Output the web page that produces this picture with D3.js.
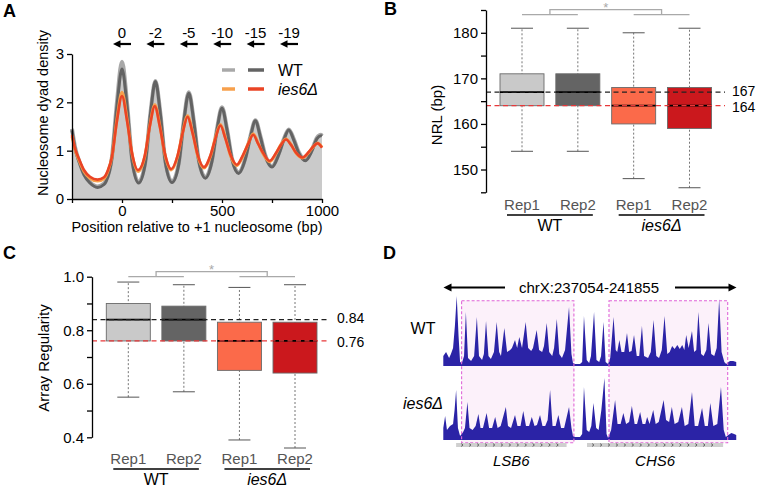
<!DOCTYPE html>
<html>
<head>
<meta charset="utf-8">
<script src="https://cdn.jsdelivr.net/npm/d3@7"></script>
<style>
  body { margin: 0; background: #fff; }
  svg { font-family: "Liberation Sans", Arial, Helvetica, sans-serif; }
</style>
</head>
<body>
<svg id="fig" width="759" height="489"></svg>
<script>
// ---------- Panel A: dyad density around +1 nucleosome ([bp, density])
const wtRep1 = [[-250,1.45],[-235,1.08],[-213,0.77],[-190,0.52],[-160,0.35],[-122,0.26],[-90,0.32],[-80,0.38],[-50,0.88],[-25,2.02],[0,2.84],[25,2.0],[50,0.83],[83,0.35],[117,0.77],[142,1.77],[167,2.44],[192,1.77],[217,0.77],[250,0.36],[284,0.74],[309,1.62],[334,2.21],[359,1.62],[384,0.8],[417,0.45],[450,0.8],[475,1.45],[500,1.9],[525,1.45],[550,0.84],[583,0.55],[617,0.85],[642,1.3],[667,1.63],[692,1.3],[717,0.9],[750,0.68],[784,0.94],[809,1.24],[834,1.44],[859,1.24],[884,0.97],[917,0.81],[950,1.02],[975,1.27],[995,1.33],[1000,1.31]];
const wtRep2 = [[-250,1.42],[-235,1.05],[-213,0.75],[-190,0.5],[-160,0.33],[-122,0.24],[-90,0.3],[-80,0.36],[-50,0.85],[-25,1.93],[0,2.69],[25,1.93],[50,0.8],[83,0.33],[117,0.75],[142,1.75],[167,2.43],[192,1.75],[217,0.75],[250,0.34],[284,0.72],[309,1.6],[334,2.19],[359,1.6],[384,0.78],[417,0.43],[450,0.78],[475,1.43],[500,1.88],[525,1.43],[550,0.82],[583,0.53],[617,0.83],[642,1.28],[667,1.62],[692,1.28],[717,0.88],[750,0.66],[784,0.92],[809,1.22],[834,1.43],[859,1.22],[884,0.95],[917,0.79],[950,1.0],[975,1.25],[995,1.31],[1000,1.3]];
const iesRep1 = [[-250,1.3],[-235,1.02],[-213,0.78],[-190,0.57],[-160,0.43],[-122,0.37],[-90,0.42],[-70,0.58],[-50,0.88],[-25,1.66],[0,2.21],[25,1.66],[50,0.94],[80,0.57],[114,0.88],[139,1.52],[164,1.95],[189,1.52],[214,0.93],[246,0.6],[278,0.88],[303,1.38],[328,1.72],[353,1.38],[378,0.9],[410,0.64],[442,0.88],[467,1.27],[492,1.54],[517,1.27],[542,0.9],[574,0.69],[606,0.9],[631,1.15],[656,1.35],[681,1.15],[706,0.93],[738,0.77],[770,0.94],[795,1.13],[820,1.24],[845,1.13],[870,0.95],[902,0.85],[935,0.97],[960,1.1],[978,1.16],[1000,1.07]];
const iesRep2 = [[-250,1.33],[-235,1.05],[-213,0.81],[-190,0.6],[-160,0.46],[-122,0.4],[-90,0.45],[-70,0.6],[-50,0.88],[-25,1.62],[0,2.13],[25,1.62],[50,0.95],[80,0.6],[114,0.9],[139,1.5],[164,1.92],[189,1.5],[214,0.95],[246,0.62],[278,0.9],[303,1.36],[328,1.7],[353,1.36],[378,0.92],[410,0.66],[442,0.9],[467,1.25],[492,1.52],[517,1.25],[542,0.92],[574,0.71],[606,0.92],[631,1.14],[656,1.33],[681,1.14],[706,0.95],[738,0.79],[770,0.95],[795,1.12],[820,1.23],[845,1.12],[870,0.96],[902,0.86],[935,0.98],[960,1.1],[978,1.15],[1000,1.06]];
const peakPos = [0, 167, 334, 501, 668, 835];
const peakShift = ["0", "-2", "-5", "-10", "-15", "-19"];

// ---------- Panels B / C: box statistics (WT Rep1, WT Rep2, ies6 Rep1, ies6 Rep2)
const repLabels = ["Rep1", "Rep2", "Rep1", "Rep2"];
const strains = ["WT", "ies6Δ"];
const boxColors = ["#c9c9c9", "#646464", "#fb6a4a", "#cb181d"];
const nrlLow = [154, 154, 148, 146];
const nrlQ1 = [164, 164, 160, 159];
const nrlMed = [167, 167, 164, 164];
const nrlQ3 = [171, 171, 168, 168];
const nrlHigh = [181, 181, 180, 181];
const nrlRefs = [167, 164];
const arLow = [0.55, 0.57, 0.39, 0.36];
const arQ1 = [0.76, 0.76, 0.65, 0.64];
const arMed = [0.84, 0.84, 0.76, 0.76];
const arQ3 = [0.90, 0.89, 0.83, 0.83];
const arHigh = [0.98, 0.97, 0.96, 0.97];
const arRefs = [0.84, 0.76];

// ---------- Panel D: browser tracks (bp offset from chrX:237054, coverage)
const trackStart = 237054, trackEnd = 241855;
const wtTrack = [[0,10],[45,14],[95,8],[125,12],[160,18],[190,40],[220,70],[250,30],[275,4],[305,3],[340,10],[370,54],[405,8],[455,5],[505,10],[550,49],[585,10],[635,6],[665,12],[700,45],[740,10],[780,7],[830,14],[875,44],[915,14],[945,10],[1000,38],[1045,14],[1095,16],[1125,18],[1175,26],[1210,18],[1245,29],[1290,18],[1350,44],[1390,18],[1440,15],[1470,18],[1530,36],[1570,16],[1620,14],[1650,20],[1695,43],[1735,14],[1785,10],[1815,18],[1860,47],[1900,12],[1945,8],[1995,16],[2060,59],[2100,12],[2125,3],[2160,2],[2240,2],[2275,4],[2305,50],[2350,6],[2390,3],[2420,10],[2470,54],[2510,6],[2555,4],[2585,10],[2625,44],[2660,4],[2700,2],[2735,8],[2790,49],[2825,16],[2850,14],[2885,26],[2920,14],[2965,14],[3010,33],[3045,14],[3085,15],[3125,31],[3170,10],[3210,10],[3255,40],[3290,10],[3355,8],[3400,14],[3445,46],[3490,10],[3535,8],[3580,16],[3625,50],[3670,12],[3710,14],[3750,20],[3790,17],[3835,21],[3875,17],[3915,21],[3950,16],[3980,31],[4020,18],[4075,35],[4110,14],[4145,16],[4180,54],[4225,12],[4265,10],[4310,16],[4345,43],[4390,12],[4440,10],[4480,18],[4520,67],[4560,14],[4605,4],[4635,2],[4670,4],[4700,5],[4750,5],[4800,4]];
const iesTrack = [[0,12],[30,24],[60,10],[110,14],[160,16],[185,30],[210,50],[240,12],[275,4],[325,8],[355,12],[395,38],[430,12],[480,10],[530,14],[575,26],[610,12],[650,12],[710,27],[750,12],[800,12],[850,23],[890,12],[940,14],[1025,33],[1060,14],[1110,12],[1175,25],[1215,14],[1265,14],[1310,29],[1355,14],[1405,14],[1450,23],[1495,14],[1535,15],[1585,25],[1625,14],[1670,14],[1710,20],[1750,50],[1790,14],[1840,14],[1885,25],[1930,12],[1980,12],[2060,33],[2100,12],[2125,4],[2160,3],[2240,3],[2275,6],[2305,53],[2350,10],[2390,8],[2425,14],[2460,37],[2505,12],[2545,10],[2590,30],[2640,62],[2675,6],[2700,2],[2750,10],[2815,40],[2855,16],[2905,16],[2950,27],[2995,16],[3045,18],[3090,34],[3135,16],[3175,16],[3225,28],[3265,16],[3310,16],[3340,23],[3380,16],[3440,30],[3480,16],[3530,18],[3610,40],[3650,20],[3700,18],[3745,33],[3790,16],[3850,18],[3910,33],[3955,14],[4015,16],[4075,48],[4120,14],[4175,14],[4240,32],[4285,14],[4335,14],[4375,37],[4425,14],[4490,16],[4550,53],[4595,10],[4630,3],[4670,5],[4720,7],[4765,6],[4800,5]];
const regionBoxes = [[300, 2140], [2715, 4660]];
const genes = [{name: "LSB6", start: 210, end: 2020}, {name: "CHS6", start: 2355, end: 4585}];

// ---------------------------------------------------------------
const svg = d3.select("#fig");
const FONT = '"Liberation Sans", Arial, Helvetica, sans-serif';

function styleAxis(g) {
  g.attr("font-family", FONT).attr("font-size", 15);
  g.selectAll("path, line").attr("stroke", "#000").attr("stroke-width", 1.3);
  g.selectAll("text").attr("fill", "#000");
}

function panelLetter(txt, x, y) {
  svg.append("text").attr("x", x).attr("y", y).attr("font-size", 18)
     .attr("font-weight", "bold").attr("dominant-baseline", "central").text(txt);
}

function arrow(g, xFrom, xTo, y, sw, head) {
  // line from xFrom to xTo, head at xTo
  const dir = Math.sign(xTo - xFrom);
  g.append("line").attr("x1", xFrom).attr("x2", xTo - dir * head * 0.8)
   .attr("y1", y).attr("y2", y).attr("stroke", "#000").attr("stroke-width", sw);
  g.append("path")
   .attr("d", `M${xTo},${y} L${xTo - dir * head},${y - head * 0.5} L${xTo - dir * head},${y + head * 0.5} Z`)
   .attr("fill", "#000");
}

// ====================== Panel A ======================
(function () {
  const g = svg.append("g");
  const x = d3.scaleLinear().domain([-250, 1000]).range([72, 322]);
  const y = d3.scaleLinear().domain([0, 3]).range([199, 54]);
  const curve = d3.curveMonotoneX;

  g.append("path").datum(wtRep1)
   .attr("d", d3.area().curve(curve).x(d => x(d[0])).y0(y(0)).y1(d => y(d[1])))
   .attr("fill", "#cacaca");

  const line = d3.line().curve(curve).x(d => x(d[0])).y(d => y(d[1]));
  const series = [
    {d: wtRep1, c: "#a8a8a8", w: 4},
    {d: wtRep2, c: "#636363", w: 3},
    {d: iesRep1, c: "#f7a04c", w: 3},
    {d: iesRep2, c: "#ea4425", w: 2.6}
  ];
  g.selectAll(".ln").data(series).join("path")
   .attr("d", s => line(s.d)).attr("fill", "none")
   .attr("stroke", s => s.c).attr("stroke-width", s => s.w).attr("stroke-linejoin", "round");

  const ya = g.append("g").attr("transform", "translate(72,0)")
    .call(d3.axisLeft(y).tickValues([0, 1, 2, 3]).tickSize(5).tickSizeOuter(0).tickPadding(3).tickFormat(d3.format("d")));
  styleAxis(ya);
  const xa = g.append("g").attr("transform", "translate(0,199)")
    .call(d3.axisBottom(x).tickValues([-250, 0, 250, 500, 750, 1000]).tickSize(4).tickSizeOuter(0).tickPadding(2)
      .tickFormat(d => (d % 500 === 0 ? d : "")));
  styleAxis(xa);

  g.append("text").attr("x", 197).attr("y", 227).attr("text-anchor", "middle")
   .attr("dominant-baseline", "central").attr("font-size", 14.5).text("Position relative to +1 nucleosome (bp)");
  g.append("text").attr("transform", "translate(43,113) rotate(-90)").attr("text-anchor", "middle")
   .attr("dominant-baseline", "central").attr("font-size", 14.5).text("Nucleosome dyad density");

  // phase shift labels and arrows above peaks
  peakPos.forEach((p, i) => {
    g.append("text").attr("x", x(p)).attr("y", 32).attr("text-anchor", "middle")
     .attr("dominant-baseline", "central").attr("font-size", 15).text(peakShift[i]);
    arrow(g, x(p) + 9, x(p) - 9, 44, 2.2, 7.5);
  });

  // legend
  const leg = [
    {t: strains[0], c1: "#a8a8a8", c2: "#636363", y: 70, it: false},
    {t: strains[1], c1: "#f7a04c", c2: "#ea4425", y: 89, it: true}
  ];
  leg.forEach(l => {
    g.append("line").attr("x1", 222).attr("x2", 235).attr("y1", l.y).attr("y2", l.y)
     .attr("stroke", l.c1).attr("stroke-width", 3.5);
    g.append("line").attr("x1", 248).attr("x2", 264).attr("y1", l.y).attr("y2", l.y)
     .attr("stroke", l.c2).attr("stroke-width", 3.5);
    g.append("text").attr("x", 278).attr("y", l.y).attr("dominant-baseline", "central")
     .attr("font-size", 16).attr("font-style", l.it ? "italic" : "normal").text(l.t);
  });
})();

// ====================== Panels B and C ======================
function boxPanel(cfg) {
  const g = svg.append("g");
  const idx = d3.range(4);
  const x = d3.scalePoint().domain(idx).range(cfg.xr);
  const y = d3.scaleLinear().domain(cfg.dom).range(cfg.yr);
  const bw = 44;

  g.selectAll(".wh").data(idx).join("line")
   .attr("x1", i => x(i)).attr("x2", i => x(i))
   .attr("y1", i => y(cfg.low[i])).attr("y2", i => y(cfg.high[i]))
   .attr("stroke", "#666").attr("stroke-width", 0.9).attr("stroke-dasharray", "2,2");
  [cfg.low, cfg.high].forEach(arr => {
    g.selectAll(null).data(idx).join("line")
     .attr("x1", i => x(i) - 11).attr("x2", i => x(i) + 11)
     .attr("y1", i => y(arr[i])).attr("y2", i => y(arr[i]))
     .attr("stroke", "#555").attr("stroke-width", 1);
  });
  g.selectAll(".bx").data(idx).join("rect")
   .attr("x", i => x(i) - bw / 2).attr("width", bw)
   .attr("y", i => y(cfg.q3[i])).attr("height", i => y(cfg.q1[i]) - y(cfg.q3[i]))
   .attr("fill", i => boxColors[i]).attr("stroke", "#6a6a6a").attr("stroke-width", 0.9);
  g.selectAll(".md").data(idx).join("line")
   .attr("x1", i => x(i) - bw / 2).attr("x2", i => x(i) + bw / 2)
   .attr("y1", i => y(cfg.med[i])).attr("y2", i => y(cfg.med[i]))
   .attr("stroke", "#000").attr("stroke-width", 1.8);

  // reference lines (WT median black, mutant median red)
  const refCol = ["#222", "#e8383a"];
  cfg.refs.forEach((r, k) => {
    g.append("line").attr("x1", cfg.axisX).attr("x2", cfg.refEnd)
     .attr("y1", y(r)).attr("y2", y(r)).attr("stroke", refCol[k])
     .attr("stroke-width", 1.3).attr("stroke-dasharray", "5,3.5");
    g.append("text").attr("x", cfg.refEnd + 7).attr("y", y(r) + (k ? 1.2 : -1.2))
     .attr("dominant-baseline", "central").attr("font-size", 14).text(cfg.refFmt(r));
  });

  const ax = g.append("g").attr("transform", `translate(${cfg.axisX},0)`)
    .call(d3.axisLeft(y).tickValues(cfg.ticks).tickSize(5).tickSizeOuter(0).tickPadding(3).tickFormat(cfg.tickFmt));
  styleAxis(ax);

  g.append("text").attr("transform", `translate(${cfg.ylab[0]},${cfg.ylab[1]}) rotate(-90)`)
   .attr("text-anchor", "middle").attr("dominant-baseline", "central").attr("font-size", 15).text(cfg.ylabel);

  // significance bracket
  const bl = cfg.brY, bt = cfg.brY - 5;
  const m1 = (x(0) + x(1)) / 2, m2 = (x(2) + x(3)) / 2;
  g.append("path")
   .attr("d", `M${x(0)},${bl}H${x(1)}M${x(2)},${bl}H${x(3)}M${m1},${bl}V${bt}H${m2}V${bl}`)
   .attr("fill", "none").attr("stroke", "#a9a9a9").attr("stroke-width", 1.3);
  g.append("text").attr("x", (m1 + m2) / 2).attr("y", bt + 2.5).attr("text-anchor", "middle")
   .attr("font-size", 13).attr("fill", "#a9a9a9").text("*");

  // category labels
  g.selectAll(".rl").data(idx).join("text")
   .attr("x", i => x(i)).attr("y", cfg.repY).attr("text-anchor", "middle")
   .attr("dominant-baseline", "central").attr("font-size", 15).attr("fill", "#555")
   .text(i => repLabels[i]);
  [[0, 1], [2, 3]].forEach((pr, k) => {
    g.append("line").attr("x1", x(pr[0]) - 15).attr("x2", x(pr[1]) + 15)
     .attr("y1", cfg.repY + 11).attr("y2", cfg.repY + 11).attr("stroke", "#000").attr("stroke-width", 1.4);
    g.append("text").attr("x", (x(pr[0]) + x(pr[1])) / 2).attr("y", cfg.repY + 21)
     .attr("text-anchor", "middle").attr("dominant-baseline", "central").attr("font-size", 16)
     .attr("font-style", k ? "italic" : "normal").text(strains[k]);
  });
}

boxPanel({
  xr: [522, 689.5], dom: [145, 185], yr: [192.3, 10], axisX: 486, refEnd: 725,
  low: nrlLow, q1: nrlQ1, med: nrlMed, q3: nrlQ3, high: nrlHigh, refs: nrlRefs,
  refFmt: d3.format("d"), ticks: d3.range(145, 186, 5),
  tickFmt: d => (d % 10 === 0 ? d : ""), ylabel: "NRL (bp)", ylab: [436, 115],
  brY: 14.7, repY: 204
});

boxPanel({
  xr: [128.3, 295], dom: [0.4, 1.0], yr: [437.3, 276.7], axisX: 92, refEnd: 330,
  low: arLow, q1: arQ1, med: arMed, q3: arQ3, high: arHigh, refs: arRefs,
  refFmt: d3.format(".2f"), ticks: d3.range(4, 11).map(v => v / 10),
  tickFmt: d => (Math.round(d * 10) % 2 === 0 ? d3.format(".1f")(d) : ""),
  ylabel: "Array Regularity", ylab: [43.5, 358],
  brY: 276.7, repY: 458
});

// ====================== Panel D ======================
(function () {
  const g = svg.append("g");
  const x = d3.scaleLinear().domain([0, trackEnd - trackStart]).range([443.3, 736.3]);
  const yWT = d3.scaleLinear().domain([0, 72]).range([366, 294]);
  const yIes = d3.scaleLinear().domain([0, 72]).range([440, 368]);

  g.selectAll(".rb").data(regionBoxes).join("rect")
   .attr("x", d => x(d[0])).attr("width", d => x(d[1]) - x(d[0]))
   .attr("y", 300.7).attr("height", 142).attr("fill", "#fcf1fa");

  [[wtTrack, yWT], [iesTrack, yIes]].forEach(([data, y]) => {
    g.append("path").datum(data)
     .attr("d", d3.area().x(d => x(d[0])).y0(y(0)).y1(d => y(d[1])))
     .attr("fill", "#2b23a6");
  });

  g.selectAll(".rbo").data(regionBoxes).join("rect")
   .attr("x", d => x(d[0])).attr("width", d => x(d[1]) - x(d[0]))
   .attr("y", 300.7).attr("height", 142).attr("fill", "none")
   .attr("stroke", "#e066d8").attr("stroke-width", 1.1).attr("stroke-dasharray", "3,2");

  // genes
  genes.forEach(gn => {
    g.append("rect").attr("x", x(gn.start)).attr("width", x(gn.end) - x(gn.start))
     .attr("y", 443).attr("height", 4).attr("fill", "#cfcfcf");
    d3.range(gn.start + 100, gn.end - 60, 130).forEach(p => {
      g.append("path").attr("d", `M${x(p) - 1},${443.6} L${x(p) + 0.8},${445} L${x(p) - 1},${446.4}`)
       .attr("fill", "none").attr("stroke", "#333").attr("stroke-width", 0.7);
    });
    g.append("text").attr("x", (x(gn.start) + x(gn.end)) / 2).attr("y", 460)
     .attr("text-anchor", "middle").attr("dominant-baseline", "central")
     .attr("font-size", 15).attr("font-style", "italic").text(gn.name);
  });

  g.append("text").attr("x", 589).attr("y", 287).attr("text-anchor", "middle")
   .attr("dominant-baseline", "central").attr("font-size", 15)
   .text(`chrX:${trackStart}-${trackEnd}`);
  arrow(g, 505, 443.5, 287.5, 1.8, 8);
  arrow(g, 675, 736.5, 287.5, 1.8, 8);

  g.append("text").attr("x", 423).attr("y", 328).attr("text-anchor", "middle")
   .attr("dominant-baseline", "central").attr("font-size", 16).text(strains[0]);
  g.append("text").attr("x", 423).attr("y", 403).attr("text-anchor", "middle")
   .attr("dominant-baseline", "central").attr("font-size", 16).attr("font-style", "italic").text(strains[1]);
})();

panelLetter("A", 3, 11);
panelLetter("B", 384, 9);
panelLetter("C", 3, 253);
panelLetter("D", 383, 253);
</script>
</body>
</html>
